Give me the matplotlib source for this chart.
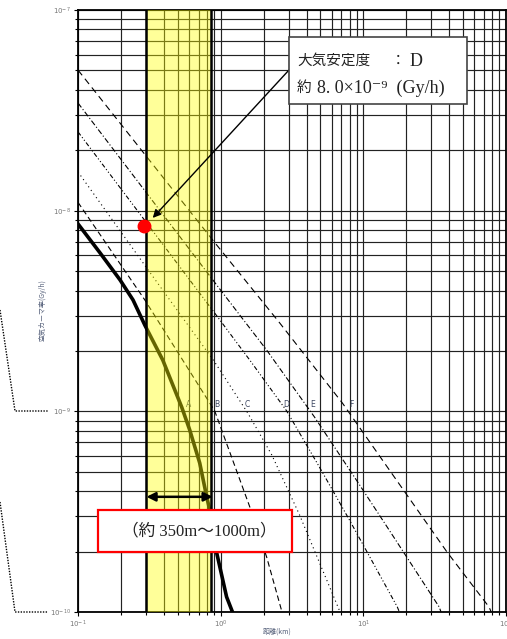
import numpy as np
import matplotlib
matplotlib.use("Agg")
import matplotlib.pyplot as plt
from matplotlib.patches import Rectangle
from matplotlib.lines import Line2D
from matplotlib.ticker import LogLocator, NullFormatter

# --- data (distance in km, air kerma rate in Gy/h) ---
dist_A = [0.100, 0.143, 0.197, 0.243, 0.294, 0.393, 0.533, 0.607, 0.713, 0.798, 0.838, 0.938, 1.10, 1.21]
rate_A = [8.59e-9, 6.15e-9, 4.52e-9, 3.59e-9, 2.69e-9, 1.80e-9, 1.05e-9, 8.07e-10, 5.53e-10,
          3.75e-10, 3.23e-10, 1.97e-10, 1.19e-10, 1.0e-10]

dist_B = [0.100, 0.294, 0.908, 1.60, 2.10, 2.67, 2.75]
rate_B = [1.10e-8, 3.59e-9, 1.005e-9, 3.34e-10, 1.88e-10, 1.02e-10, 9.0e-11]

dist_C = [0.100, 0.318, 0.908, 1.55, 2.28, 3.57, 6.79, 7.2]
rate_C = [1.56e-8, 4.94e-9, 1.76e-9, 9.8e-10, 6.07e-10, 3.05e-10, 1.02e-10, 9.0e-11]

dist_D = [0.100, 0.953, 1.60, 2.90, 4.92, 7.98, 17.3, 19.0]
rate_D = [2.47e-8, 2.95e-9, 1.80e-9, 1.005e-9, 5.28e-10, 2.88e-10, 1.06e-10, 9.0e-11]

dist_E = [0.100, 0.938, 2.10, 4.54, 8.93, 14.7, 34.0, 37.0]
rate_E = [3.44e-8, 4.26e-9, 2.02e-9, 9.38e-10, 4.55e-10, 2.65e-10, 1.06e-10, 9.0e-11]

dist_F = [0.100, 0.879, 2.59, 7.13, 15.2, 38.6, 76.0, 84.0]
rate_F = [5.02e-8, 7.14e-9, 2.76e-9, 1.10e-9, 5.11e-10, 1.99e-10, 1.06e-10, 9.0e-11]

curve_names = ["A", "B", "C", "D", "E", "F"]
label_x = [0.569, 0.908, 1.47, 2.76, 4.26, 7.98]

band_range = (0.30, 0.85)
point_D = (0.290, 8.4e-9)
arrow_tip = (0.334, 9.2e-9)
span_arrow = (0.302, 0.879, 3.75e-10)

box_title = ["大気安定度", "：", "D"]
box_value = ["約", "8. 0×10⁻⁹  (Gy/h)"]
range_text = "（約 350m〜1000m）"

W, H = 507, 639
fig = plt.figure(figsize=(W / 100, H / 100), dpi=100)
ax = fig.add_axes([78 / W, 1 - 612 / H, 428 / W, 602 / H])

ax.set_xscale("log")
ax.set_yscale("log")
ax.set_xlim(0.1, 100)
ax.set_ylim(1e-10, 1e-7)

ax.xaxis.set_major_locator(LogLocator(base=10, numticks=10))
ax.xaxis.set_minor_locator(LogLocator(base=10, subs=np.arange(2, 10), numticks=30))
ax.yaxis.set_major_locator(LogLocator(base=10, numticks=10))
ax.yaxis.set_minor_locator(LogLocator(base=10, subs=np.arange(2, 10), numticks=30))
ax.xaxis.set_minor_formatter(NullFormatter())
ax.yaxis.set_minor_formatter(NullFormatter())
ax.tick_params(which="both", direction="out", length=3, width=0.8, labelsize=5,
               labelcolor="#777777", pad=2)
ax.tick_params(which="minor", length=2)

ax.grid(which="both", color="#222222", lw=0.85, zorder=0)
ax.set_axisbelow(True)
for s in ax.spines.values():
    s.set_linewidth(1.3)
    s.set_color("black")

# curves
ax.plot(dist_A, rate_A, color="black", lw=2.6, zorder=3)
ax.plot(dist_B, rate_B, color="black", lw=0.8, dashes=(5, 3), zorder=3)
ax.plot(dist_C, rate_C, color="black", lw=0.8, dashes=(1, 3), zorder=3)
ax.plot(dist_D, rate_D, color="black", lw=0.8, dashes=(4, 2, 1, 2, 1, 2), zorder=3)
ax.plot(dist_E, rate_E, color="black", lw=0.8, dashes=(5, 2, 1, 2), zorder=3)
ax.plot(dist_F, rate_F, color="black", lw=0.8, dashes=(6, 4), zorder=3)

for name, lx in zip(curve_names, label_x):
    ax.text(lx, 1.03e-9, name, fontsize=5.5, color="#3c4660", ha="left", va="bottom", zorder=4)

# highlighted distance band
ax.axvspan(*band_range, facecolor="#ffff00", alpha=0.4, lw=0, zorder=5)
for xb in band_range:
    ax.axvline(xb, color="black", lw=1.8, zorder=6)

ax.plot(*point_D, "o", color="red", ms=9, mec="red", zorder=8)

ax.annotate("", xy=(span_arrow[1], span_arrow[2]), xytext=(span_arrow[0], span_arrow[2]),
            arrowprops=dict(arrowstyle="<|-|>", color="black", lw=1.8, mutation_scale=13,
                            shrinkA=0, shrinkB=0), zorder=7)

ax.annotate("", xy=arrow_tip, xycoords="data",
            xytext=(289 / W, 1 - 70 / H), textcoords="figure fraction",
            arrowprops=dict(arrowstyle="-|>", color="black", lw=1.0, mutation_scale=12,
                            shrinkA=0, shrinkB=0), zorder=9)

# text boxes (figure coordinates)
serif_cjk = ["Liberation Serif", "Noto Sans CJK JP", "DejaVu Sans"]
txt = dict(family=serif_cjk, color="#222222", va="center", zorder=11)
fig.add_artist(Rectangle((289 / W, 1 - 104 / H), 178 / W, 67 / H, transform=fig.transFigure,
                         facecolor="white", edgecolor="#444444", lw=1.2, zorder=10))
fig.text(297 / W, 1 - 61 / H, box_title[0], fontsize=10.5, ha="left", **txt)
fig.text(398 / W, 1 - 61 / H, box_title[1], fontsize=10.5, ha="center", **txt)
fig.text(410 / W, 1 - 61 / H, box_title[2], fontsize=13, ha="left", **txt)
fig.text(297 / W, 1 - 88 / H, box_value[0], fontsize=10.5, ha="left", **txt)
fig.text(317 / W, 1 - 88 / H, box_value[1], fontsize=13, ha="left", **txt)

fig.add_artist(Rectangle((98 / W, 1 - 552 / H), 194 / W, 42 / H, transform=fig.transFigure,
                         facecolor="white", edgecolor="red", lw=1.6, zorder=10))
fig.text(199 / W, 1 - 531 / H, range_text, fontsize=12, ha="center", **txt)

# axis titles
fig.text(43 / W, 1 - 310 / H, "空気カーマ率(Gy/h)", rotation=90, fontsize=5,
         family=["Noto Sans CJK JP", "DejaVu Sans"], color="#55607a", ha="center", va="center")
fig.text(277 / W, 1 - 632 / H, "距離(km)", fontsize=5,
         family=["Noto Sans CJK JP", "DejaVu Sans"], color="#55607a", ha="center", va="center")

# dotted leader lines on the left edge
for y_top, y_end in [(310, 411), (502, 612)]:
    fig.add_artist(Line2D([0, 15 / W, 48 / W], [1 - y_top / H, 1 - y_end / H, 1 - y_end / H],
                          transform=fig.transFigure, color="black", lw=1.0, ls=(0, (1, 1))))

fig.savefig("out.png", dpi=100)
